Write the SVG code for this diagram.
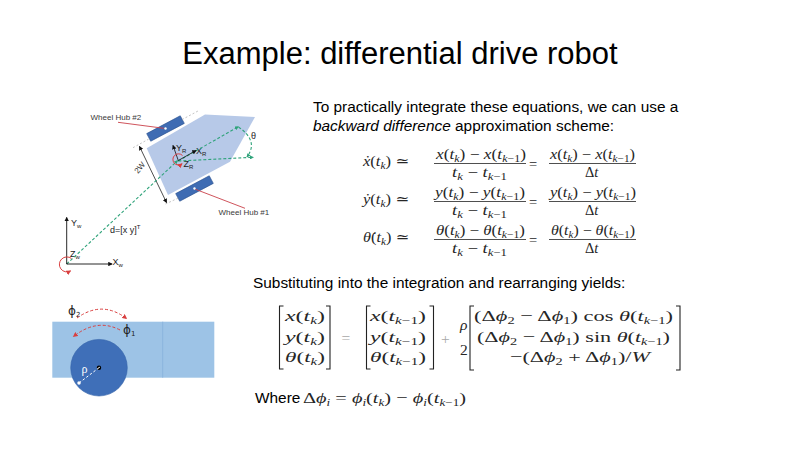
<svg xmlns="http://www.w3.org/2000/svg" width="800" height="450" viewBox="0 0 800 450">
<style>
.sans{font-family:"Liberation Sans",Arial,sans-serif;fill:#000}
.lbl{font-family:"Liberation Sans",Arial,sans-serif;font-size:8px;fill:#3a3a3a}
.ax{font-family:"Liberation Sans",Arial,sans-serif;font-size:9px;fill:#222}
.axs{font-size:6px}
.m{font-family:"Liberation Serif","DejaVu Serif",serif;font-size:14.5px;fill:#262626}
.m2{font-family:"Liberation Serif","DejaVu Serif",serif;font-size:15.5px;fill:#262626}
.i{font-style:italic}
.s{font-size:10px}
.bar{stroke:#222;stroke-width:0.8}
.brk{fill:none;stroke:#222;stroke-width:1.1}
.gray{fill:#a8a8a8}
.green{fill:none;stroke:#2fa37a;stroke-width:1.1;stroke-dasharray:3 2}
.ext{fill:none;stroke:#aaa;stroke-width:0.7;stroke-dasharray:2 2}
.red{fill:none;stroke:#d94040;stroke-width:1}
.wheel{fill:#3f6cb3;stroke:#2c5290;stroke-width:0.6}
</style>
<defs>
<marker id="ab" viewBox="0 0 6 6" refX="5" refY="3" markerWidth="4.5" markerHeight="4.5" markerUnits="userSpaceOnUse" orient="auto-start-reverse"><path d="M0,0 L6,3 L0,6 z" fill="#111"/></marker>
<marker id="ar" viewBox="0 0 6 6" refX="5" refY="3" markerWidth="5" markerHeight="5" markerUnits="userSpaceOnUse" orient="auto"><path d="M0,0 L6,3 L0,6 z" fill="#d94040"/></marker>
<marker id="ag" viewBox="0 0 6 6" refX="5" refY="3" markerWidth="4" markerHeight="4" markerUnits="userSpaceOnUse" orient="auto"><path d="M0,0 L6,3 L0,6 z" fill="#2fa37a"/></marker>
<marker id="dw" viewBox="0 0 6 6" refX="3" refY="3" markerWidth="3.5" markerHeight="3.5" markerUnits="userSpaceOnUse"><circle cx="3" cy="3" r="3" fill="#fff"/></marker>
</defs>
<rect width="800" height="450" fill="#fff"/>

<text id="title" class="sans" x="400" y="64" font-size="31" text-anchor="middle">Example: differential drive robot</text>

<g id="intro" class="sans" font-size="15.4">
<text x="313" y="111.5">To practically integrate these equations, we can use a</text>
<text x="313" y="130.5"><tspan font-style="italic">backward difference</tspan> approximation scheme:</text>
</g>

<g id="backward-difference" >
<!-- row 1 -->
<text class="m" x="363" y="166" textLength="46" lengthAdjust="spacingAndGlyphs"><tspan class="i">ẋ</tspan>(<tspan class="i">t</tspan><tspan class="s i" dy="3">k</tspan><tspan dy="-3">) ≃</tspan></text>
<text class="m" x="436" y="159" textLength="90" lengthAdjust="spacingAndGlyphs"><tspan class="i">x</tspan>(<tspan class="i">t</tspan><tspan class="s i" dy="3">k</tspan><tspan dy="-3">) − </tspan><tspan class="i">x</tspan>(<tspan class="i">t</tspan><tspan class="s" dy="3"><tspan class="i">k</tspan>−1</tspan><tspan dy="-3">)</tspan></text>
<line class="bar" x1="434" y1="163.5" x2="526" y2="163.5"/>
<text class="m" x="452" y="176.5" textLength="55" lengthAdjust="spacingAndGlyphs"><tspan class="i">t</tspan><tspan class="s i" dy="3">k</tspan><tspan dy="-3"> − </tspan><tspan class="i">t</tspan><tspan class="s" dy="3"><tspan class="i">k</tspan>−1</tspan></text>
<text class="m" x="529" y="168.5">=</text>
<text class="m" x="550" y="159" textLength="85" lengthAdjust="spacingAndGlyphs"><tspan class="i">x</tspan>(<tspan class="i">t</tspan><tspan class="s i" dy="3">k</tspan><tspan dy="-3">) − </tspan><tspan class="i">x</tspan>(<tspan class="i">t</tspan><tspan class="s" dy="3"><tspan class="i">k</tspan>−1</tspan><tspan dy="-3">)</tspan></text>
<line class="bar" x1="549" y1="163.5" x2="636" y2="163.5"/>
<text class="m" x="585" y="176.5">Δ<tspan class="i">t</tspan></text>
<!-- row 2 -->
<text class="m" x="363" y="204" textLength="46" lengthAdjust="spacingAndGlyphs"><tspan class="i">ẏ</tspan>(<tspan class="i">t</tspan><tspan class="s i" dy="3">k</tspan><tspan dy="-3">) ≃</tspan></text>
<text class="m" x="435" y="197" textLength="90" lengthAdjust="spacingAndGlyphs"><tspan class="i">y</tspan>(<tspan class="i">t</tspan><tspan class="s i" dy="3">k</tspan><tspan dy="-3">) − </tspan><tspan class="i">y</tspan>(<tspan class="i">t</tspan><tspan class="s" dy="3"><tspan class="i">k</tspan>−1</tspan><tspan dy="-3">)</tspan></text>
<line class="bar" x1="434" y1="201.5" x2="526" y2="201.5"/>
<text class="m" x="452" y="214.5" textLength="55" lengthAdjust="spacingAndGlyphs"><tspan class="i">t</tspan><tspan class="s i" dy="3">k</tspan><tspan dy="-3"> − </tspan><tspan class="i">t</tspan><tspan class="s" dy="3"><tspan class="i">k</tspan>−1</tspan></text>
<text class="m" x="529" y="206.5">=</text>
<text class="m" x="550" y="197" textLength="86" lengthAdjust="spacingAndGlyphs"><tspan class="i">y</tspan>(<tspan class="i">t</tspan><tspan class="s i" dy="3">k</tspan><tspan dy="-3">) − </tspan><tspan class="i">y</tspan>(<tspan class="i">t</tspan><tspan class="s" dy="3"><tspan class="i">k</tspan>−1</tspan><tspan dy="-3">)</tspan></text>
<line class="bar" x1="549" y1="201.5" x2="636" y2="201.5"/>
<text class="m" x="585" y="214.5">Δ<tspan class="i">t</tspan></text>
<!-- row 3 -->
<text class="m" x="363" y="242" textLength="46" lengthAdjust="spacingAndGlyphs"><tspan class="i">θ̇</tspan>(<tspan class="i">t</tspan><tspan class="s i" dy="3">k</tspan><tspan dy="-3">) ≃</tspan></text>
<text class="m" x="436" y="235" textLength="89" lengthAdjust="spacingAndGlyphs"><tspan class="i">θ</tspan>(<tspan class="i">t</tspan><tspan class="s i" dy="3">k</tspan><tspan dy="-3">) − </tspan><tspan class="i">θ</tspan>(<tspan class="i">t</tspan><tspan class="s" dy="3"><tspan class="i">k</tspan>−1</tspan><tspan dy="-3">)</tspan></text>
<line class="bar" x1="434" y1="239.5" x2="526" y2="239.5"/>
<text class="m" x="452" y="252.5" textLength="55" lengthAdjust="spacingAndGlyphs"><tspan class="i">t</tspan><tspan class="s i" dy="3">k</tspan><tspan dy="-3"> − </tspan><tspan class="i">t</tspan><tspan class="s" dy="3"><tspan class="i">k</tspan>−1</tspan></text>
<text class="m" x="529" y="244.5">=</text>
<text class="m" x="551" y="235" textLength="84" lengthAdjust="spacingAndGlyphs"><tspan class="i">θ</tspan>(<tspan class="i">t</tspan><tspan class="s i" dy="3">k</tspan><tspan dy="-3">) − </tspan><tspan class="i">θ</tspan>(<tspan class="i">t</tspan><tspan class="s" dy="3"><tspan class="i">k</tspan>−1</tspan><tspan dy="-3">)</tspan></text>
<line class="bar" x1="549" y1="239.5" x2="636" y2="239.5"/>
<text class="m" x="585" y="252.5">Δ<tspan class="i">t</tspan></text>
</g>

<text id="substituting" class="sans" x="253" y="288" font-size="15.4">Substituting into the integration and rearranging yields:</text>

<g id="matrix-equation">
<path class="brk" d="M283.5,306 H279.5 V369 H283.5 M326,306 H330 V369 H326"/>
<text class="m2" x="285" y="321" textLength="40" lengthAdjust="spacingAndGlyphs"><tspan class="i">x</tspan>(<tspan class="i">t</tspan><tspan class="s i" dy="3">k</tspan><tspan dy="-3">)</tspan></text>
<text class="m2" x="285" y="341.5" textLength="40" lengthAdjust="spacingAndGlyphs"><tspan class="i">y</tspan>(<tspan class="i">t</tspan><tspan class="s i" dy="3">k</tspan><tspan dy="-3">)</tspan></text>
<text class="m2" x="285" y="362" textLength="40" lengthAdjust="spacingAndGlyphs"><tspan class="i">θ</tspan>(<tspan class="i">t</tspan><tspan class="s i" dy="3">k</tspan><tspan dy="-3">)</tspan></text>
<text class="m2 gray" x="341.5" y="343">=</text>
<path class="brk" d="M370.5,306 H366.5 V369 H370.5 M429.5,306 H433.5 V369 H429.5"/>
<text class="m2" x="370" y="321" textLength="56" lengthAdjust="spacingAndGlyphs"><tspan class="i">x</tspan>(<tspan class="i">t</tspan><tspan class="s" dy="3"><tspan class="i">k</tspan>−1</tspan><tspan dy="-3">)</tspan></text>
<text class="m2" x="370" y="341.5" textLength="56" lengthAdjust="spacingAndGlyphs"><tspan class="i">y</tspan>(<tspan class="i">t</tspan><tspan class="s" dy="3"><tspan class="i">k</tspan>−1</tspan><tspan dy="-3">)</tspan></text>
<text class="m2" x="370" y="362" textLength="56" lengthAdjust="spacingAndGlyphs"><tspan class="i">θ</tspan>(<tspan class="i">t</tspan><tspan class="s" dy="3"><tspan class="i">k</tspan>−1</tspan><tspan dy="-3">)</tspan></text>
<text class="m2 gray" x="441" y="344">+</text>
<text class="m2 i" x="460" y="330">ρ</text>
<text class="m2" x="460" y="355">2</text>
<path class="brk" d="M474,306 H470 V370 H474 M676,306 H680 V370 H676"/>
<text class="m2" x="474" y="321" textLength="199" lengthAdjust="spacingAndGlyphs">(Δ<tspan class="i">ϕ</tspan><tspan class="s" dy="3">2</tspan><tspan dy="-3"> − Δ</tspan><tspan class="i">ϕ</tspan><tspan class="s" dy="3">1</tspan><tspan dy="-3">) cos </tspan><tspan class="i">θ</tspan>(<tspan class="i">t</tspan><tspan class="s" dy="3"><tspan class="i">k</tspan>−1</tspan><tspan dy="-3">)</tspan></text>
<text class="m2" x="477" y="341.5" textLength="193" lengthAdjust="spacingAndGlyphs">(Δ<tspan class="i">ϕ</tspan><tspan class="s" dy="3">2</tspan><tspan dy="-3"> − Δ</tspan><tspan class="i">ϕ</tspan><tspan class="s" dy="3">1</tspan><tspan dy="-3">) sin </tspan><tspan class="i">θ</tspan>(<tspan class="i">t</tspan><tspan class="s" dy="3"><tspan class="i">k</tspan>−1</tspan><tspan dy="-3">)</tspan></text>
<text class="m2" x="510" y="362" textLength="140" lengthAdjust="spacingAndGlyphs">−(Δ<tspan class="i">ϕ</tspan><tspan class="s" dy="3">2</tspan><tspan dy="-3"> + Δ</tspan><tspan class="i">ϕ</tspan><tspan class="s" dy="3">1</tspan><tspan dy="-3">)/</tspan><tspan class="i">W</tspan></text>
</g>

<g id="where">
<text class="sans" x="255" y="402.5" font-size="15.4">Where</text>
<text class="m2" x="303" y="402.5" textLength="163" lengthAdjust="spacingAndGlyphs">Δ<tspan class="i">ϕ</tspan><tspan class="s i" dy="3">i</tspan><tspan dy="-3"> = </tspan><tspan class="i">ϕ</tspan><tspan class="s i" dy="3">i</tspan><tspan dy="-3">(</tspan><tspan class="i">t</tspan><tspan class="s i" dy="3">k</tspan><tspan dy="-3">) − </tspan><tspan class="i">ϕ</tspan><tspan class="s i" dy="3">i</tspan><tspan dy="-3">(</tspan><tspan class="i">t</tspan><tspan class="s" dy="3"><tspan class="i">k</tspan>−1</tspan><tspan dy="-3">)</tspan></text>
</g>

<!-- Robot top view -->
<g id="robot-body">
<polygon points="146.7,148.3 205,114.5 255,117 230,161.7 168,195" fill="#b7c9e8"/>
</g>
<g id="wheel-hub-2">
<rect class="wheel" x="-19" y="-4.3" width="38" height="8.6" transform="translate(165.5,128.5) rotate(-28)"/>
<circle cx="165.5" cy="128.5" r="1.2" fill="#fff"/>
</g>
<g id="wheel-hub-1">
<rect class="wheel" x="-19" y="-4.3" width="38" height="8.6" transform="translate(194.5,188.5) rotate(-28)"/>
<circle cx="194.5" cy="188.5" r="1.2" fill="#fff"/>
</g>
<g id="wheel-hub-2-label"><text class="lbl" x="90.5" y="120">Wheel Hub #2</text></g>
<g id="wheel-hub-1-label"><text class="lbl" x="218.5" y="215">Wheel Hub #1</text></g>
<g id="robot-frame">
<text class="ax" x="176" y="151">Y<tspan class="axs" dy="2">R</tspan></text>
<text class="ax" x="196" y="154">X<tspan class="axs" dy="2">R</tspan></text>
<text class="ax" x="183.5" y="167">Z<tspan class="axs" dy="2">R</tspan></text>
<text class="ax" x="251" y="138.5" font-family="Liberation Serif" font-size="10">θ</text>
</g>
<g id="world-frame">
<text class="ax" x="71" y="226">Y<tspan class="axs" dy="2">w</tspan></text>
<text class="ax" x="112.5" y="265">X<tspan class="axs" dy="2">w</tspan></text>
<text class="ax" x="70" y="257">Z<tspan class="axs" dy="2">w</tspan></text>
<text class="ax" x="110" y="233">d=[x y]<tspan class="axs" dy="-4">T</tspan></text>
</g>
<g id="dimension-2W">
<text class="lbl" font-size="8.5" transform="translate(138,174) rotate(-50)">2W</text>
</g>

<!-- Wheel side view -->
<g id="wheel-side">
<rect x="52.3" y="321.7" width="162" height="56" fill="#9dc3e6"/>
<line x1="162.7" y1="321.7" x2="162.7" y2="377.7" stroke="#86b0da" stroke-width="0.8"/>
<circle cx="99" cy="367.7" r="28.3" fill="#3f6fb8" stroke="#3463aa" stroke-width="0.6"/>
<circle cx="99" cy="367.7" r="2.2" fill="#000"/>
<circle cx="99.3" cy="367.3" r="0.6" fill="#fff"/>
<text x="81.5" y="373" font-family="Liberation Serif,serif" font-size="12" fill="#fff">ρ</text>
<text x="68" y="315" font-family="DejaVu Sans,sans-serif" font-size="12" fill="#222">ϕ<tspan font-size="7" dy="2">2</tspan></text>
<text x="123" y="334" font-family="DejaVu Sans,sans-serif" font-size="12" fill="#222">ϕ<tspan font-size="7" dy="2">1</tspan></text>
</g>

<g id="connectors">
<line x1="118" y1="122.3" x2="164" y2="128.3" stroke="#c9414a" stroke-width="0.9"/>
<line x1="195.5" y1="189.3" x2="245" y2="208.3" stroke="#c9414a" stroke-width="0.9"/>
<path class="ext" d="M182,119.6 L198,111 M133,147.7 L148.5,139.2 M165.5,204 L179.5,197.5"/>
<line x1="139.5" y1="146.5" x2="166.5" y2="202.5" stroke="#222" stroke-width="0.8" marker-start="url(#ab)" marker-end="url(#ab)"/>
<line class="green" x1="66.7" y1="264" x2="177.5" y2="160.7" marker-end="url(#ag)"/>
<line class="green" x1="178.3" y1="161" x2="238.3" y2="126.7" marker-end="url(#ag)"/>
<line class="green" x1="178.3" y1="161" x2="253.3" y2="157.3" marker-end="url(#ag)"/>
<path class="green" d="M238.5,127 Q259,141 247,157" marker-end="url(#ag)" stroke-dasharray="none"/>
<line x1="178.3" y1="160.5" x2="173" y2="145.5" stroke="#111" stroke-width="0.8" marker-end="url(#ab)"/>
<line x1="178.3" y1="160.5" x2="196" y2="150.5" stroke="#111" stroke-width="0.8" marker-end="url(#ab)"/>
<path class="red" d="M182.5,155.5 A5.6 5.6 0 1 0 182,163.8" marker-end="url(#ar)"/>
<line x1="66.7" y1="264" x2="66.7" y2="217.5" stroke="#111" stroke-width="0.9" marker-end="url(#ab)"/>
<line x1="66.7" y1="264" x2="112" y2="264" stroke="#111" stroke-width="0.9" marker-end="url(#ab)"/>
<path class="red" d="M71.5,258.5 A7.5 7.5 0 1 0 70.5,271" marker-end="url(#ar)"/>
<path class="red" stroke-dasharray="3 2" d="M77,318 Q102,300 126.5,318.5" marker-end="url(#ar)"/>
<path class="red" stroke-dasharray="3 2" d="M120,330 Q97,318 73.5,336.5" marker-end="url(#ar)"/>
<line x1="99" y1="367.7" x2="79" y2="383" stroke="#fff" stroke-width="1" stroke-dasharray="2.5 2" marker-end="url(#dw)"/>
</g>
</svg>
